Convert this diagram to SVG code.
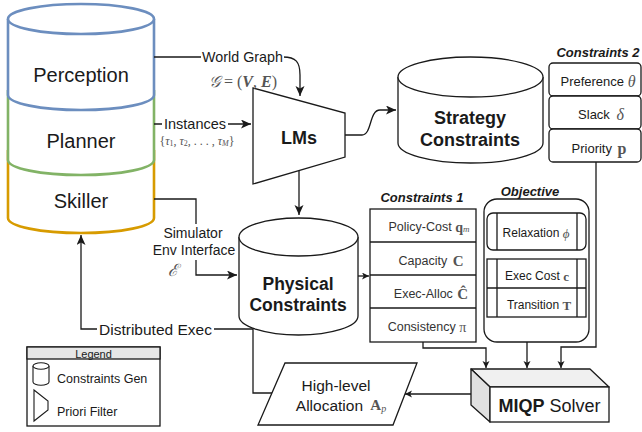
<svg xmlns="http://www.w3.org/2000/svg" width="642" height="432" viewBox="0 0 642 432">
  <style>
    .sans { font-family: "Liberation Sans", Arial, sans-serif; fill: #1a1a1a; }
    .math { font-family: "Liberation Serif", "DejaVu Serif", serif; fill: #555; }
    .shape { fill: #fff; stroke: #1a1a1a; stroke-width: 1.3; }
    .edge { fill: none; stroke: #1a1a1a; stroke-width: 1.3; }
    .bold { font-weight: bold; }
    .title { font-family: "Liberation Sans", Arial, sans-serif; font-weight: bold; font-style: italic; font-size: 13px; fill: #1a1a1a; }
    .row { font-size: 12.5px; fill: #333; }
  </style>
  <defs>
    <marker id="arrow" markerUnits="userSpaceOnUse" markerWidth="12" markerHeight="10" refX="10" refY="4.5" orient="auto">
      <path d="M0,0 L10,4.5 L0,9 L2.5,4.5 z" fill="#1a1a1a"/>
    </marker>
    <marker id="arrowSmall" markerUnits="userSpaceOnUse" markerWidth="8" markerHeight="8" refX="7" refY="3.5" orient="auto">
      <path d="M0,0 L7,3.5 L0,7 L1.8,3.5 z" fill="#1a1a1a"/>
    </marker>
  </defs>

  <rect width="642" height="432" fill="#fff"/>

  <!-- Stacked agent layers -->
  <g id="skiller">
    <path d="M8,150 L8,218 A73,15 0 0 0 154,218 L154,150" fill="#fff" stroke="#d79b00" stroke-width="2.6"/>
    <text class="sans" x="81" y="201" font-size="20" text-anchor="middle" dominant-baseline="central">Skiller</text>
  </g>
  <g id="planner">
    <path d="M8,90 L8,160 A73,15 0 0 0 154,160 L154,90" fill="#fff" stroke="#82b366" stroke-width="2.6"/>
    <text class="sans" x="81" y="141" font-size="20" text-anchor="middle" dominant-baseline="central">Planner</text>
  </g>
  <g id="perception">
    <path d="M8,19 L8,95 A73,15 0 0 0 154,95 L154,19" fill="#fff" stroke="#6c8ebf" stroke-width="2.6"/>
    <ellipse cx="81" cy="19" rx="73" ry="15" fill="#fff" stroke="#6c8ebf" stroke-width="2.6"/>
    <text class="sans" x="81" y="75" font-size="20" text-anchor="middle" dominant-baseline="central">Perception</text>
  </g>

  <!-- Language models (priori filter) -->
  <g id="lms">
    <polygon class="shape" points="253,88 345,113 345,157 253,184"/>
    <text class="sans bold" x="299" y="138" font-size="18" text-anchor="middle" dominant-baseline="central">LMs</text>
  </g>

  <!-- Strategy constraints store -->
  <g id="strategy-constraints">
    <path class="shape" d="M398,77 L398,143 A72.5,20 0 0 0 543,143 L543,77"/>
    <ellipse class="shape" cx="470.5" cy="77" rx="72.5" ry="20"/>
    <text class="sans bold" x="470" y="118" font-size="18" text-anchor="middle" dominant-baseline="central">Strategy</text>
    <text class="sans bold" x="470" y="140" font-size="18" text-anchor="middle" dominant-baseline="central">Constraints</text>
  </g>

  <!-- Physical constraints store -->
  <g id="physical-constraints">
    <path class="shape" d="M239,237 L239,316 A59.5,19 0 0 0 358,316 L358,237"/>
    <ellipse class="shape" cx="298.5" cy="237" rx="59.5" ry="19"/>
    <text class="sans bold" x="298" y="284" font-size="17.5" text-anchor="middle" dominant-baseline="central">Physical</text>
    <text class="sans bold" x="298" y="305" font-size="17.5" text-anchor="middle" dominant-baseline="central">Constraints</text>
  </g>

  <!-- Constraints 2 -->
  <g id="constraints-2">
    <text class="title" x="598" y="52" text-anchor="middle" dominant-baseline="central">Constraints 2</text>
    <rect class="shape" x="549" y="63" width="92" height="33" rx="4"/>
    <rect class="shape" x="549" y="96" width="92" height="33" rx="4"/>
    <rect class="shape" x="549" y="129" width="92" height="33" rx="4"/>
    <text class="sans" x="598" y="81" font-size="13" fill="#333" text-anchor="middle" dominant-baseline="central">Preference <tspan class="math" font-style="italic" font-size="16">θ</tspan></text>
    <text class="sans" x="601" y="114" font-size="13" text-anchor="middle" dominant-baseline="central">Slack <tspan class="math" font-style="italic" font-size="16" dx="3">δ</tspan></text>
    <text class="sans" x="599" y="148" font-size="13" text-anchor="middle" dominant-baseline="central">Priority <tspan class="math bold" font-size="16" dx="2">p</tspan></text>
  </g>

  <!-- Constraints 1 -->
  <g id="constraints-1">
    <text class="title" x="422" y="197" text-anchor="middle" dominant-baseline="central">Constraints 1</text>
    <rect class="shape" x="370" y="209" width="106" height="133"/>
    <line class="edge" x1="370" y1="242" x2="476" y2="242"/>
    <line class="edge" x1="370" y1="275" x2="476" y2="275"/>
    <line class="edge" x1="370" y1="308" x2="476" y2="308"/>
    <text class="sans row" x="429" y="227" text-anchor="middle" dominant-baseline="central">Policy-Cost <tspan class="math bold" font-size="14">q</tspan><tspan class="math" font-style="italic" font-size="9" dy="2">m</tspan></text>
    <text class="sans row" x="431" y="261" text-anchor="middle" dominant-baseline="central">Capacity <tspan class="math bold" font-size="15" dx="2">C</tspan></text>
    <text class="sans row" x="431" y="294" text-anchor="middle" dominant-baseline="central">Exec-Alloc <tspan class="math bold" font-size="15" dx="1">Ĉ</tspan></text>
    <text class="sans row" x="427" y="327" text-anchor="middle" dominant-baseline="central">Consistency <tspan class="math" font-size="14">π</tspan></text>
  </g>

  <!-- Objective -->
  <g id="objective">
    <text class="title" x="530" y="191" text-anchor="middle" dominant-baseline="central">Objective</text>
    <rect class="shape" x="484" y="199" width="105" height="143" rx="13"/>
    <rect class="shape" x="487" y="213" width="99" height="37" rx="6"/>
    <line class="edge" x1="497" y1="213" x2="497" y2="250"/>
    <line class="edge" x1="577" y1="213" x2="577" y2="250"/>
    <rect class="shape" x="487" y="259" width="99" height="58"/>
    <line class="edge" x1="487" y1="288" x2="586" y2="288"/>
    <line class="edge" x1="497" y1="259" x2="497" y2="317"/>
    <line class="edge" x1="577" y1="259" x2="577" y2="317"/>
    <text class="sans" x="536" y="233" font-size="12" fill="#333" text-anchor="middle" dominant-baseline="central">Relaxation <tspan class="math" font-style="italic" font-size="13">ϕ</tspan></text>
    <text class="sans" x="537" y="276" font-size="12" fill="#333" text-anchor="middle" dominant-baseline="central">Exec Cost <tspan class="math bold" font-size="13">c</tspan></text>
    <text class="sans" x="539" y="305" font-size="12" fill="#333" text-anchor="middle" dominant-baseline="central">Transition <tspan class="math bold" font-size="13">T</tspan></text>
  </g>

  <!-- MIQP solver -->
  <g id="miqp-solver">
    <polygon points="471,369 590,369 609,387 490,387" fill="#f0f0f0" stroke="#1a1a1a" stroke-width="1.3" stroke-linejoin="round"/>
    <polygon points="471,369 490,387 490,422 471,405" fill="#e0e0e0" stroke="#1a1a1a" stroke-width="1.3" stroke-linejoin="round"/>
    <rect class="shape" x="490" y="387" width="119" height="35"/>
    <text class="sans" x="549.5" y="406" font-size="18" text-anchor="middle" dominant-baseline="central"><tspan class="bold">MIQP</tspan> Solver</text>
  </g>

  <!-- High-level allocation output -->
  <g id="high-level-allocation">
    <polygon class="shape" points="285,363 417,363 393,425 258,425"/>
    <text class="sans" x="336" y="385" font-size="15.5" fill="#333" text-anchor="middle" dominant-baseline="central">High-level</text>
    <text class="sans" x="341" y="405" font-size="15.5" fill="#333" text-anchor="middle" dominant-baseline="central">Allocation <tspan class="math bold" font-size="15" dx="3">A</tspan><tspan class="math" font-style="italic" font-size="10" dy="3">p</tspan></text>
  </g>

  <!-- Legend -->
  <g id="legend">
    <rect x="27" y="347" width="133" height="79" fill="#fff" stroke="#1a1a1a" stroke-width="1.3"/>
    <rect x="27" y="347" width="133" height="12" fill="#e6e6e6" stroke="#1a1a1a" stroke-width="1.3"/>
    <text class="sans" x="93.5" y="353.5" font-size="11" text-anchor="middle" dominant-baseline="central">Legend</text>
    <path d="M33,366 L33,382 A8,3.2 0 0 0 49,382 L49,366" fill="#fff" stroke="#1a1a1a" stroke-width="1.1"/>
    <ellipse cx="41" cy="366" rx="8" ry="3.2" fill="#fff" stroke="#1a1a1a" stroke-width="1.1"/>
    <text class="sans" x="57" y="379" font-size="12.5" fill="#333" dominant-baseline="central">Constraints Gen</text>
    <polygon points="34,390 48,401 48,410 34,421" fill="#fff" stroke="#1a1a1a" stroke-width="1.1"/>
    <text class="sans" x="57" y="412" font-size="12.5" fill="#333" dominant-baseline="central">Priori Filter</text>
  </g>

  <!-- Connectors -->
  <g id="connectors">
    <path class="edge" d="M154,57 L283,57 C296,57 300,62 300,75 L300,96" marker-end="url(#arrow)"/>
    <path class="edge" d="M154,124 L251,124" marker-end="url(#arrow)"/>
    <path class="edge" d="M345,135 L362,135 C372,135 369,110 380,110 L396,110" marker-end="url(#arrow)"/>
    <path class="edge" d="M299,171 L299,215" marker-end="url(#arrow)"/>
    <path class="edge" d="M154,199 L196,199 L196,275 L237,275" marker-end="url(#arrow)"/>
    <path class="edge" d="M358,276 L369,276" marker-end="url(#arrowSmall)"/>
    <path class="edge" d="M272,393 L253,393 L253,329 L81,329 L81,235" marker-end="url(#arrow)"/>
    <path class="edge" d="M423,342 L423,348 L486,348 L486,368" marker-end="url(#arrowSmall)"/>
    <path class="edge" d="M527,342 L527,368" marker-end="url(#arrowSmall)"/>
    <path class="edge" d="M596,162 L596,347 L561,347 L561,368" marker-end="url(#arrowSmall)"/>
    <path class="edge" d="M471,394 L405,394" marker-end="url(#arrowSmall)"/>

    <!-- edge labels -->
    <rect x="201" y="49" width="83" height="16" fill="#fff"/>
    <text class="sans" x="242.5" y="57" font-size="14.3" fill="#333" text-anchor="middle" dominant-baseline="central">World Graph</text>
    <text class="math" x="243" y="81" font-size="16" fill="#777" text-anchor="middle" dominant-baseline="central"><tspan font-style="italic">𝒢</tspan> = (<tspan font-weight="bold" font-style="italic">V</tspan>, <tspan font-weight="bold" font-style="italic">E</tspan>)</text>

    <rect x="162" y="116" width="66" height="16" fill="#fff"/>
    <text class="sans" x="195" y="124" font-size="14.5" fill="#333" text-anchor="middle" dominant-baseline="central">Instances</text>
    <text class="math" x="197" y="141" font-size="12" fill="#777" text-anchor="middle" dominant-baseline="central">{<tspan font-style="italic">τ</tspan><tspan font-size="8" dy="2">1</tspan><tspan dy="-2">, </tspan><tspan font-style="italic">τ</tspan><tspan font-size="8" dy="2">2</tspan><tspan dy="-2">, . . . , </tspan><tspan font-style="italic">τ</tspan><tspan font-size="8" font-style="italic" dy="2">M</tspan><tspan dy="-2">}</tspan></text>

    <rect x="150" y="224" width="88" height="36" fill="#fff"/>
    <text class="sans" x="193" y="233" font-size="14" fill="#333" text-anchor="middle" dominant-baseline="central">Simulator</text>
    <text class="sans" x="194" y="250" font-size="14" fill="#333" text-anchor="middle" dominant-baseline="central">Env Interface</text>
    <text class="math" x="173" y="270" font-size="17" font-style="italic" fill="#777" text-anchor="middle" dominant-baseline="central">ℰ</text>

    <rect x="97" y="321" width="117" height="16" fill="#fff"/>
    <text class="sans" x="155.5" y="329" font-size="15.5" fill="#333" text-anchor="middle" dominant-baseline="central">Distributed Exec</text>
  </g>
</svg>
